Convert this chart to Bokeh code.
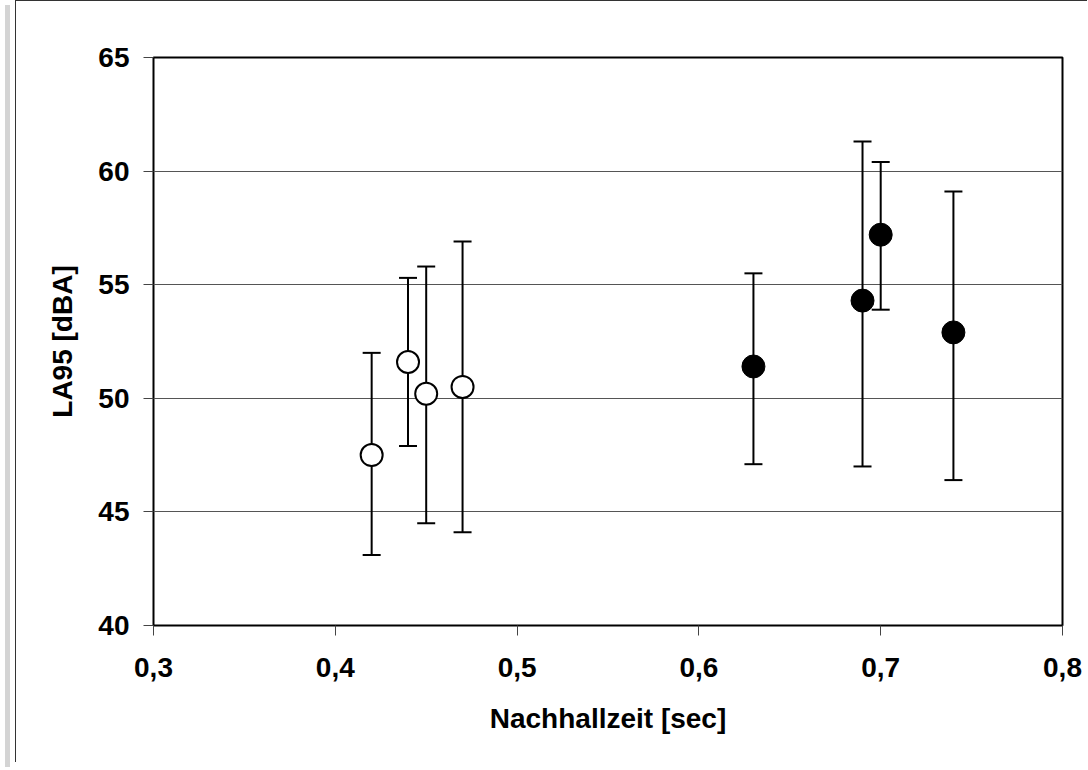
from bokeh.plotting import figure
from bokeh.models import Range1d, FixedTicker, CustomJSTickFormatter, Whisker, TeeHead, ColumnDataSource, Div
from bokeh.layouts import row
from bokeh.embed import file_html
from bokeh.resources import INLINE

# data (Nachhallzeit [sec] vs LA95 [dBA])
open_x = [0.42, 0.44, 0.45, 0.47]
open_y = [47.5, 51.6, 50.2, 50.5]
open_upper = [52.0, 55.3, 55.8, 56.9]
open_lower = [43.1, 47.9, 44.5, 44.1]

filled_x = [0.63, 0.69, 0.70, 0.74]
filled_y = [51.4, 54.3, 57.2, 52.9]
filled_upper = [55.5, 61.3, 60.4, 59.1]
filled_lower = [47.1, 47.0, 53.9, 46.4]

x_ticks = [0.3, 0.4, 0.5, 0.6, 0.7, 0.8]
y_ticks = [40, 45, 50, 55, 60, 65]

FONT = "Liberation Sans"

p = figure(width=1072, height=762, output_backend="svg", toolbar_location=None,
           x_range=Range1d(0.3, 0.8), y_range=Range1d(40, 65),
           min_border_left=137, min_border_right=26, min_border_top=56, min_border_bottom=138,
           background_fill_color="white", border_fill_color="white",
           styles={"border-left": "1px solid #333", "border-top": "1px solid #333"})

p.outline_line_color = "black"
p.outline_line_width = 2

p.xgrid.grid_line_color = None
p.ygrid.grid_line_color = "#555555"
p.ygrid.grid_line_width = 1

p.xaxis.ticker = FixedTicker(ticks=x_ticks)
p.yaxis.ticker = FixedTicker(ticks=y_ticks)
p.xaxis.formatter = CustomJSTickFormatter(code="return tick.toFixed(1).replace('.', ',');")

for ax in (p.xaxis[0], p.yaxis[0]):
    ax.axis_line_color = None
    ax.major_tick_line_color = "#444444"
    ax.major_tick_line_width = 1
    ax.major_tick_out = 10
    ax.major_tick_in = 0
    ax.minor_tick_line_color = None
    ax.major_label_text_font = FONT
    ax.major_label_text_font_style = "bold"
    ax.major_label_text_font_size = "28px"
    ax.major_label_text_color = "black"
    ax.axis_label_text_font = FONT
    ax.axis_label_text_font_style = "bold"
    ax.axis_label_text_color = "black"

p.xaxis.axis_label = "Nachhallzeit [sec]"
p.xaxis.axis_label_text_font_size = "28px"
p.xaxis.major_label_standoff = 22
p.xaxis.axis_label_standoff = 23

p.yaxis.axis_label = "LA95 [dBA]"
p.yaxis.axis_label_text_font_size = "28px"
p.yaxis.major_label_standoff = 14
p.yaxis.axis_label_standoff = 17

src_open = ColumnDataSource(dict(x=open_x, y=open_y, upper=open_upper, lower=open_lower))
src_filled = ColumnDataSource(dict(x=filled_x, y=filled_y, upper=filled_upper, lower=filled_lower))

for src in (src_open, src_filled):
    w = Whisker(source=src, base="x", upper="upper", lower="lower", dimension="height",
                line_color="black", line_width=2,
                upper_head=TeeHead(size=18, line_width=2, line_color="black"),
                lower_head=TeeHead(size=18, line_width=2, line_color="black"))
    p.add_layout(w)

p.scatter("x", "y", source=src_open, size=22, marker="circle",
          fill_color="white", line_color="black", line_width=2)
p.scatter("x", "y", source=src_filled, size=23, marker="circle",
          fill_color="black", line_color="black", line_width=1)

gray = Div(width=5, height=762, styles={"background-color": "#d4d4d4"})
layout = row(gray, p)

open("out.html", "w").write(file_html(layout, INLINE))
